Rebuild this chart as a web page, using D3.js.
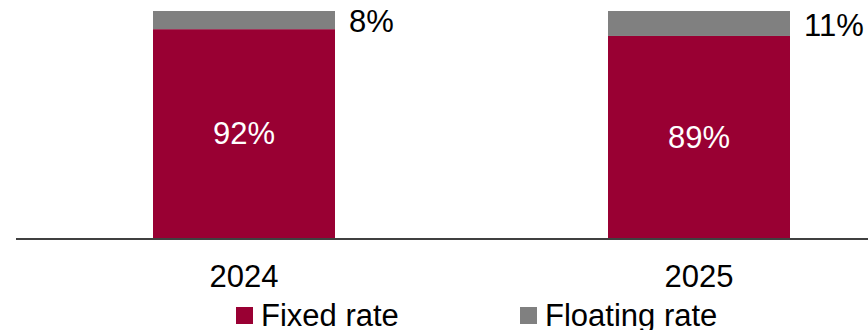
<!DOCTYPE html>
<html>
<head>
<meta charset="utf-8">
<script src="https://cdn.jsdelivr.net/npm/d3@7"></script>
<style>
  body { margin: 0; background: #fff; }
  svg text { font-family: "Liberation Sans", Arial, sans-serif; }
</style>
</head>
<body>
<div id="chart"></div>
<script>
// data
var years = ["2024", "2025"];
var fixedRate = [92, 89];
var floatingRate = [8, 11];
var seriesNames = ["Fixed rate", "Floating rate"];
var colors = ["#990033", "#808080"];

var width = 868, height = 330;

var svg = d3.select("#chart").append("svg")
    .attr("width", width)
    .attr("height", height);

var x = d3.scaleBand()
    .domain(years)
    .range([16.5, 926.5])
    .paddingInner(0.6)
    .paddingOuter(0.3);

var y = d3.scaleLinear()
    .domain([0, 100])
    .range([238, 11]);

var rows = years.map(function(yr, i) {
  return { year: yr, fixed: fixedRate[i], floating: floatingRate[i] };
});

var stack = d3.stack().keys(["fixed", "floating"]);
var layers = stack(rows);

svg.selectAll(".layer")
  .data(layers)
  .enter().append("g")
  .attr("class", "layer")
  .attr("fill", function(d, i) { return colors[i]; })
  .selectAll("rect")
  .data(function(d) { return d; })
  .enter().append("rect")
  .attr("x", function(d) { return x(d.data.year); })
  .attr("width", x.bandwidth())
  .attr("y", function(d) { return y(d[1]); })
  .attr("height", function(d) { return y(d[0]) - y(d[1]); });

// baseline
svg.append("line")
  .attr("x1", 16).attr("x2", width)
  .attr("y1", y(0) + 1).attr("y2", y(0) + 1)
  .attr("stroke", "#000")
  .attr("stroke-width", 1.5);

// labels inside fixed segments
svg.selectAll(".lblIn")
  .data(layers[0])
  .enter().append("text")
  .attr("x", function(d) { return x(d.data.year) + x.bandwidth() / 2; })
  .attr("y", function(d) { return (y(d[0]) + y(d[1])) / 2; })
  .attr("dy", "0.35em")
  .attr("text-anchor", "middle")
  .attr("fill", "#fff")
  .style("font-size", "31px")
  .text(function(d) { return d.data.fixed + "%"; });

// labels to the right of floating segments
svg.selectAll(".lblOut")
  .data(layers[1])
  .enter().append("text")
  .attr("x", function(d) { return x(d.data.year) + x.bandwidth() + 14; })
  .attr("y", function(d) { return (y(d[0]) + y(d[1])) / 2 + 1.5; })
  .attr("dy", "0.35em")
  .attr("fill", "#000")
  .style("font-size", "31px")
  .text(function(d) { return d.data.floating + "%"; });

// category labels
svg.selectAll(".cat")
  .data(years)
  .enter().append("text")
  .attr("x", function(d) { return x(d) + x.bandwidth() / 2; })
  .attr("y", 287)
  .attr("text-anchor", "middle")
  .attr("fill", "#000")
  .style("font-size", "31px")
  .text(function(d) { return d; });

// legend
var legendX = [236, 520];
var legend = svg.selectAll(".legend")
  .data(seriesNames)
  .enter().append("g")
  .attr("transform", function(d, i) { return "translate(" + legendX[i] + ",307)"; });

legend.append("rect")
  .attr("width", 17).attr("height", 17)
  .attr("fill", function(d, i) { return colors[i]; });

legend.append("text")
  .attr("x", 25)
  .attr("y", 19)
  .attr("fill", "#000")
  .style("font-size", "31px")
  .text(function(d) { return d; });
</script>
</body>
</html>
